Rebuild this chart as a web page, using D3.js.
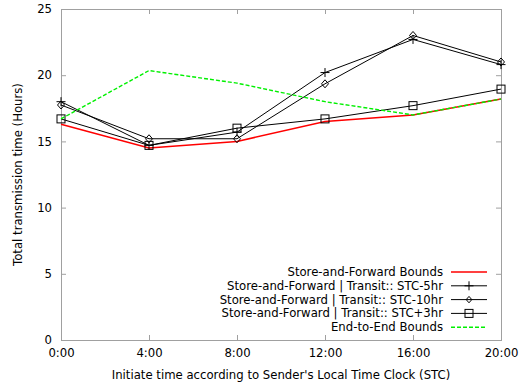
<!DOCTYPE html>
<html>
<head>
<meta charset="utf-8">
<script src="https://cdn.jsdelivr.net/npm/d3@7"></script>
<style>
  body { margin: 0; background: #fff; }
  text { font-family: "DejaVu Sans", sans-serif; font-size: 11.7px; fill: #000; }
</style>
</head>
<body>
<div id="chart"></div>
<script>
const times = ["0:00", "4:00", "8:00", "12:00", "16:00", "20:00"];
const yTicks = [0, 5, 10, 15, 20, 25];

const sfBounds = [16.3, 14.5, 15.0, 16.5, 17.0, 18.2];
const stcMinus5 = [18.0, 14.7, 15.7, 20.2, 22.7, 20.8];
const stcMinus10 = [17.75, 15.2, 15.2, 19.35, 23.0, 21.0];
const stcPlus3 = [16.7, 14.7, 16.0, 16.7, 17.7, 18.95];
const e2eBounds = [16.7, 20.35, 19.4, 18.0, 17.0, 18.2];

const series = [
  { name: "Store-and-Forward Bounds", values: sfBounds, color: "#ff0000", width: 1.5, dash: null, marker: null },
  { name: "Store-and-Forward | Transit:: STC-5hr", values: stcMinus5, color: "#000", width: 1, dash: null, marker: "plus" },
  { name: "Store-and-Forward | Transit:: STC-10hr", values: stcMinus10, color: "#000", width: 1, dash: null, marker: "diamond" },
  { name: "Store-and-Forward | Transit:: STC+3hr", values: stcPlus3, color: "#000", width: 1, dash: null, marker: "square" },
  { name: "End-to-End Bounds", values: e2eBounds, color: "#00f000", width: 1.4, dash: "4,2", marker: null }
];

const W = 521, H = 387;
const margin = { top: 9, right: 20, bottom: 47, left: 61 };
const iw = W - margin.left - margin.right;
const ih = H - margin.top - margin.bottom;

const svg = d3.select("#chart").append("svg")
  .attr("width", W).attr("height", H);

const x = d3.scalePoint().domain(times).range([0, iw]);
const y = d3.scaleLinear().domain([0, 25]).range([ih, 0]);

const g = svg.append("g").attr("transform", `translate(${margin.left},${margin.top})`);

// frame
g.append("rect").attr("x", 0).attr("y", 0).attr("width", iw).attr("height", ih)
  .attr("fill", "none").attr("stroke", "#a0a0a0").attr("stroke-width", 1).attr("shape-rendering", "crispEdges");

const tickColor = "#a0a0a0";
// bottom axis
const xAxis = g.append("g").attr("transform", `translate(0,${ih})`)
  .call(d3.axisBottom(x).tickSizeInner(-5).tickSizeOuter(0).tickPadding(9));
// top mirror
const xTop = g.append("g").call(d3.axisTop(x).tickSizeInner(-5).tickSizeOuter(0).tickFormat(""));
// left axis
const yAxis = g.append("g")
  .call(d3.axisLeft(y).tickValues(yTicks).tickSizeInner(-5).tickSizeOuter(0).tickPadding(9));
const yRight = g.append("g").attr("transform", `translate(${iw},0)`)
  .call(d3.axisRight(y).tickValues(yTicks).tickSizeInner(-5).tickSizeOuter(0).tickFormat(""));

[xAxis, xTop, yAxis, yRight].forEach(a => {
  a.select(".domain").remove();
  a.selectAll("line").attr("stroke", tickColor);
  a.selectAll("text").attr("font-family", "DejaVu Sans").attr("font-size", 11.7).attr("fill", "#000");
});

const line = d3.line().x((d, i) => x(times[i])).y(d => y(d));

function drawMarker(sel, type, cx, cy, k = 1) {
  if (type === "plus") {
    const r = 4.5 * k;
    sel.append("path").attr("d", `M${cx - r},${cy}H${cx + r}M${cx},${cy - r}V${cy + r}`)
      .attr("stroke", "#000").attr("stroke-width", 1).attr("fill", "none");
  } else if (type === "diamond") {
    const rx = 3.5 * k, ry = 4 * k;
    sel.append("path").attr("d", `M${cx},${cy - ry}L${cx + rx},${cy}L${cx},${cy + ry}L${cx - rx},${cy}Z`)
      .attr("stroke", "#000").attr("stroke-width", 1).attr("fill", "none");
  } else if (type === "square") {
    const r = 4 * k;
    sel.append("rect").attr("x", cx - r).attr("y", cy - r).attr("width", 2 * r).attr("height", 2 * r)
      .attr("stroke", "#000").attr("stroke-width", 1).attr("fill", "none");
  }
}

series.forEach(s => {
  g.append("path").datum(s.values)
    .attr("d", line)
    .attr("fill", "none")
    .attr("stroke", s.color)
    .attr("stroke-width", s.width)
    .attr("stroke-dasharray", s.dash);
  if (s.marker) {
    s.values.forEach((v, i) => drawMarker(g, s.marker, x(times[i]), y(v)));
  }
});

// legend
const legend = svg.append("g");
const legY0 = 272, legStep = 13.8, textRight = 443, sampleX1 = 451, sampleX2 = 487;
series.forEach((s, i) => {
  const ly = legY0 + i * legStep;
  legend.append("text").attr("x", textRight).attr("y", ly).attr("dy", "0.35em")
    .attr("text-anchor", "end").text(s.name);
  legend.append("line").attr("x1", sampleX1).attr("x2", sampleX2).attr("y1", ly).attr("y2", ly)
    .attr("stroke", s.color).attr("stroke-width", s.width).attr("stroke-dasharray", s.dash);
  if (s.marker) drawMarker(legend, s.marker, (sampleX1 + sampleX2) / 2, ly, s.marker === "diamond" ? 0.8 : 1);
});

// axis titles
svg.append("text").attr("x", margin.left + iw / 2).attr("y", 379)
  .attr("text-anchor", "middle").text("Initiate time according to Sender's Local Time Clock (STC)");
svg.append("text").attr("transform", `translate(22,${margin.top + ih / 2}) rotate(-90)`)
  .attr("text-anchor", "middle").text("Total transmission time (Hours)");
</script>
</body>
</html>
